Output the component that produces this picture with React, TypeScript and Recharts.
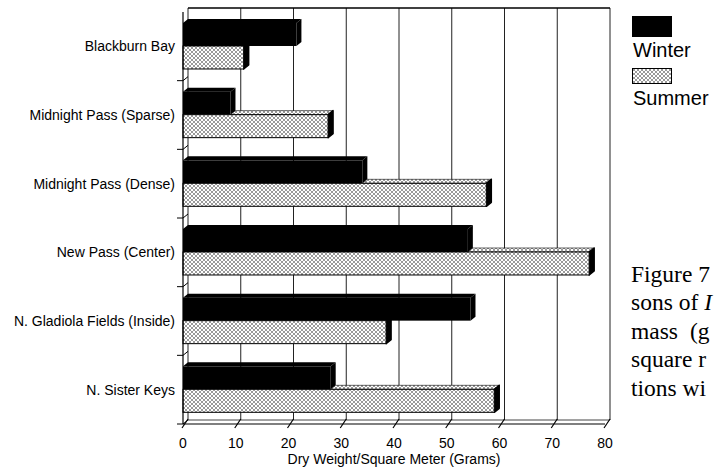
import React from 'react';
import {
  BarChart, Bar, XAxis, YAxis, CartesianGrid, ReferenceArea
} from 'recharts';

// sites, top to bottom
const sites = [
  'Blackburn Bay',
  'Midnight Pass (Sparse)',
  'Midnight Pass (Dense)',
  'New Pass (Center)',
  'N. Gladiola Fields (Inside)',
  'N. Sister Keys',
];
// dry weight, grams per square meter
const winter = [21.5, 9, 34, 54, 54.5, 28];
const summer = [11.5, 27.5, 57.5, 77, 38.5, 59];
const xTicks = [0, 10, 20, 30, 40, 50, 60, 70, 80];

// the caption is cropped by the page edge in the scan
const captionLines = ['Figure 7', 'sons of ', 'mass (g', 'square r', 'tions wi'];

const data = sites.map((name, i) => ({ name, winter: winter[i], summer: summer[i] }));

const SANS = '"Liberation Sans", Arial, sans-serif';
const SERIF = '"Liberation Serif", "Times New Roman", serif';
const DX = 5; // depth of the fake 3D
const DY = -4;

const WinterShape = (props: any) => {
  const { x, y, width, height } = props;
  if (!width) return null;
  return (
    <g>
      <polygon
        points={`${x},${y} ${x + DX},${y + DY} ${x + width + DX},${y + DY} ${x + width},${y}`}
        fill="#000"
      />
      <polygon
        points={`${x + width},${y} ${x + width + DX},${y + DY} ${x + width + DX},${y + height + DY} ${x + width},${y + height}`}
        fill="#000"
      />
      <rect x={x} y={y} width={width} height={height} fill="#000" />
    </g>
  );
};

const SummerShape = (props: any) => {
  const { x, y, width, height, payload } = props;
  if (!width) return null;
  // top face only shows where the winter bar above is shorter
  const winterLen = payload ? (width / payload.summer) * payload.winter : 0;
  const topStart = x + Math.min(width, winterLen);
  return (
    <g>
      {topStart < x + width && (
        <polygon
          points={`${topStart},${y} ${topStart + DX},${y + DY} ${x + width + DX},${y + DY} ${x + width},${y}`}
          fill="url(#stipple)"
          stroke="#000"
          strokeWidth={0.6}
        />
      )}
      <polygon
        points={`${x + width},${y} ${x + width + DX},${y + DY} ${x + width + DX},${y + height + DY} ${x + width},${y + height}`}
        fill="#000"
        stroke="#000"
        strokeWidth={1.5}
        strokeLinejoin="round"
      />
      <rect x={x} y={y} width={width} height={height} fill="url(#stipple)" stroke="#000" strokeWidth={1} />
    </g>
  );
};

const SiteTick = (props: any) => {
  const { x, y, payload } = props;
  const half = payload && payload.offset ? payload.offset : 34;
  return (
    <g>
      <text x={x - 8} y={y} dy="0.35em" textAnchor="end" fontSize={14} fontFamily={SANS} fill="#000">
        {payload.value}
      </text>
      <polyline
        points={`${x - 6},${y + half} ${x},${y + half} ${x + DX},${y + half + DY}`}
        stroke="#000"
        fill="none"
      />
    </g>
  );
};

const ValueTick = (props: any) => {
  const { x, y, payload } = props;
  return (
    <g>
      <line x1={x - 1} y1={y + 4} x2={x + DX} y2={y + DY - 1} stroke="#000" strokeWidth={1.2} />
      <text x={x} y={y + 24} textAnchor="middle" fontSize={14} fontFamily={SANS} fill="#000">
        {payload.value}
      </text>
    </g>
  );
};

const BackGridLine = (p: any) => (
  <line
    key={p.key}
    x1={p.x1 + DX}
    y1={p.y1 + DY}
    x2={p.x2 + DX}
    y2={p.y2 + DY}
    stroke="#222"
    strokeWidth={1}
  />
);

const BackFrame = (p: any) => (
  <g>
    <line x1={p.x + DX} y1={p.y + DY} x2={p.x + p.width + DX} y2={p.y + DY} stroke="#000" strokeWidth={1.5} />
    <line x1={p.x + DX} y1={p.y + p.height + DY} x2={p.x + p.width + DX} y2={p.y + p.height + DY} stroke="#444" strokeWidth={1} />
  </g>
);

export default function App() {
  return (
    <div style={{ position: 'absolute', left: 0, top: 0, width: 715, height: 467, overflow: 'hidden', background: '#fff' }}>
      <BarChart
        width={620}
        height={467}
        data={data}
        layout="vertical"
        margin={{ top: 12, right: 15, bottom: 0, left: 0 }}
        barCategoryGap="16%"
        barGap={0}
      >
        <defs>
          <pattern id="stipple" width="4" height="4" patternUnits="userSpaceOnUse">
            <rect width="4" height="4" fill="#fff" />
            <path d="M0,0 L4,4 M4,0 L0,4" stroke="#555" strokeWidth={0.6} />
          </pattern>
        </defs>

        <CartesianGrid horizontal={false} vertical={BackGridLine} />
        <ReferenceArea x1={0} x2={80} shape={BackFrame} />

        <XAxis
          type="number"
          domain={[0, 80]}
          ticks={xTicks}
          height={43}
          tickSize={0}
          tickMargin={0}
          tickLine={false}
          axisLine={{ stroke: '#000', strokeWidth: 1.2 }}
          tick={ValueTick}
          interval={0}
          label={{
            value: 'Dry Weight/Square Meter (Grams)',
            position: 'insideBottom',
            offset: 3,
            fill: '#000',
            fontSize: 14,
            fontFamily: SANS,
          }}
        />
        <YAxis
          type="category"
          dataKey="name"
          width={183}
          tickSize={0}
          tickMargin={0}
          tickLine={false}
          axisLine={{ stroke: '#000', strokeWidth: 1.2 }}
          tick={SiteTick}
          interval={0}
        />

        <Bar dataKey="winter" name="Winter" fill="#000" shape={WinterShape} isAnimationActive={false} />
        <Bar dataKey="summer" name="Summer" fill="url(#stipple)" shape={SummerShape} isAnimationActive={false} />
      </BarChart>

      {/* legend */}
      <div style={{ position: 'absolute', left: 632, top: 16, width: 40, height: 21, background: '#000' }} />
      <div style={{ position: 'absolute', left: 633, top: 40, fontFamily: SANS, fontSize: 20, lineHeight: '20px', color: '#000' }}>
        Winter
      </div>
      <svg style={{ position: 'absolute', left: 632, top: 68 }} width={40} height={16}>
        <defs>
          <pattern id="stipple-legend" width="4" height="4" patternUnits="userSpaceOnUse">
            <rect width="4" height="4" fill="#fff" />
            <path d="M0,0 L4,4 M4,0 L0,4" stroke="#555" strokeWidth={0.6} />
          </pattern>
        </defs>
        <rect x={0.5} y={0.5} width={39} height={15} fill="url(#stipple-legend)" stroke="#000" strokeWidth={1} />
      </svg>
      <div style={{ position: 'absolute', left: 633, top: 88, fontFamily: SANS, fontSize: 20, lineHeight: '20px', color: '#000' }}>
        Summer
      </div>

      {/* figure caption */}
      <div
        style={{
          position: 'absolute',
          left: 631,
          top: 260,
          fontFamily: SERIF,
          fontSize: 23.5,
          lineHeight: '28.4px',
          color: '#000',
          whiteSpace: 'nowrap',
        }}
      >
        {captionLines.map((line, i) => (
          <div key={i} style={{ wordSpacing: i === 2 ? 6 : 0 }}>
            {line}
            {i === 1 && <i>I</i>}
          </div>
        ))}
      </div>
    </div>
  );
}
